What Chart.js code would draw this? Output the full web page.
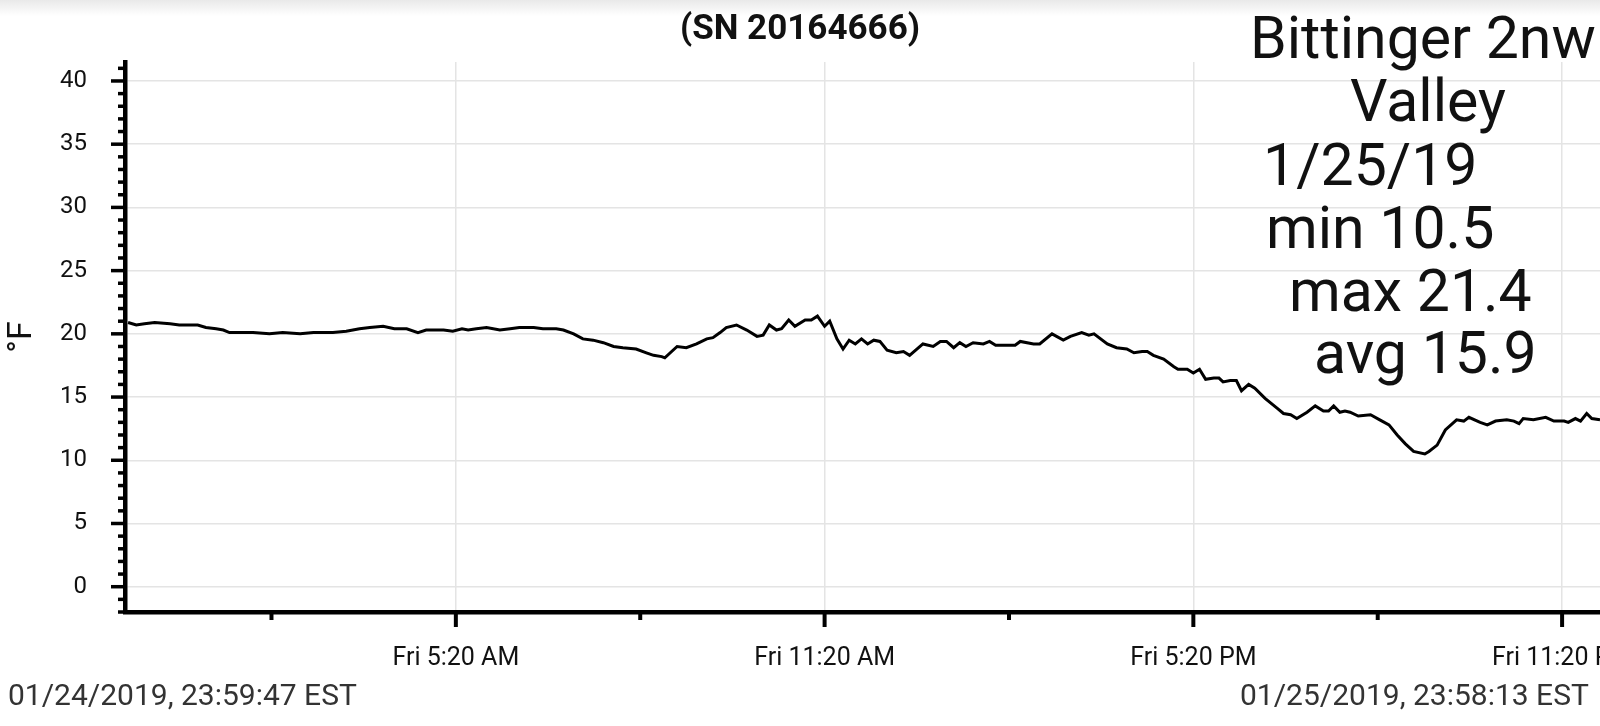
<!DOCTYPE html>
<html>
<head>
<meta charset="utf-8">
<script src="https://cdn.jsdelivr.net/npm/chart.js@4.4.1/dist/chart.umd.min.js"></script>
<style>
  html, body { margin: 0; padding: 0; background: #fff; }
  #wrap { position: relative; width: 1600px; height: 726px; overflow: hidden; font-family: Roboto, sans-serif; }
  #shade { position: absolute; left: 0; top: 0; width: 1600px; height: 16px; background: linear-gradient(#e9e9e9, #ffffff); }
  canvas { position: absolute; left: 0; top: 0; }
  .note { position: absolute; font-size: 59px; line-height: 1; color: #111; white-space: nowrap; }
  .stamp { position: absolute; top: 680px; font-size: 30px; line-height: 1; color: #333; white-space: nowrap; }
</style>
</head>
<body>
<div id="wrap">
  <div id="shade"></div>
  <canvas id="chart" width="1600" height="726"></canvas>
  <div class="note" style="left:1250px; top:8px">Bittinger 2nw</div>
  <div class="note" style="left:1350px; top:71px">Valley</div>
  <div class="note" style="left:1263px; top:135px">1/25/19</div>
  <div class="note" style="left:1266px; top:198px">min 10.5</div>
  <div class="note" style="left:1289px; top:261px">max 21.4</div>
  <div class="note" style="left:1314px; top:323px">avg 15.9</div>
  <div class="stamp" style="left:8px">01/24/2019, 23:59:47 EST</div>
  <div class="stamp" style="left:1240px">01/25/2019, 23:58:13 EST</div>
</div>
<script>
// minutes after midnight, Fri 01/25/2019
var sampleMinutes = [0,8,16,26,41,50,68,76,86,93,99,109,116,122,138,151,168,181,200,213,226,236,249,260,272,283,291,308,317,326,332,340,350,363,373,382,396,405,418,425,435,444,454,464,474,483,496,506,513,521,524,536,545,555,565,571,578,584,594,604,614,620,626,633,638,645,651,661,667,673,680,685,692,698,704,710,716,722,728,734,741,750,757,763,776,786,793,799,806,812,818,825,835,841,847,866,871,884,890,902,913,920,931,938,943,956,965,975,982,990,995,1001,1011,1021,1025,1034,1040,1046,1052,1060,1065,1069,1076,1082,1087,1094,1100,1110,1122,1128,1135,1141,1151,1159,1167,1172,1177,1183,1188,1193,1201,1213,1222,1231,1239,1247,1255,1266,1270,1278,1286,1297,1304,1309,1320,1327,1335,1346,1353,1358,1362,1372,1384,1392,1402,1406,1413,1418,1424,1429,1437];
var tempF = [20.9,20.7,20.8,20.9,20.8,20.7,20.7,20.5,20.4,20.3,20.1,20.1,20.1,20.1,20.0,20.1,20.0,20.1,20.1,20.2,20.4,20.5,20.6,20.4,20.4,20.1,20.3,20.3,20.2,20.4,20.3,20.4,20.5,20.3,20.4,20.5,20.5,20.4,20.4,20.3,20.0,19.6,19.5,19.3,19.0,18.9,18.8,18.5,18.3,18.2,18.1,19.0,18.9,19.2,19.6,19.7,20.1,20.5,20.7,20.3,19.8,19.9,20.7,20.3,20.4,21.1,20.6,21.1,21.1,21.4,20.6,21.0,19.6,18.8,19.5,19.2,19.6,19.2,19.5,19.4,18.7,18.5,18.6,18.3,19.2,19.0,19.4,19.4,18.9,19.3,19.0,19.3,19.2,19.4,19.1,19.1,19.4,19.2,19.2,20.0,19.5,19.8,20.1,19.9,20.0,19.2,18.9,18.8,18.5,18.6,18.6,18.3,18.0,17.4,17.2,17.2,16.9,17.2,16.4,16.5,16.5,16.2,16.3,16.3,15.5,16.0,15.7,14.9,14.1,13.7,13.6,13.3,13.8,14.3,13.9,13.9,14.3,13.8,13.9,13.8,13.5,13.6,13.2,12.8,12.0,11.3,10.7,10.5,10.7,11.2,12.4,13.2,13.1,13.4,13.0,12.8,13.1,13.2,13.1,12.9,13.3,13.2,13.4,13.1,13.1,13.0,13.3,13.1,13.7,13.3,13.2];

var xTickMinutes = [140, 320, 500, 680, 860, 1040, 1220, 1400];
var xTickLabels = ['', 'Fri 5:20 AM', '', 'Fri 11:20 AM', '', 'Fri 5:20 PM', '', 'Fri 11:20 PM'];
var yMin = -2, yMax = 41.5;

var points = sampleMinutes.map(function(m, i) { return { x: m, y: tempF[i] } });

function isMajorX(v) { return xTickLabels[xTickMinutes.indexOf(v)] !== '' }

var tickMarks = {
  id: 'tickMarks',
  afterDraw: function(chart) {
    var ctx = chart.ctx, xs = chart.scales.x, ys = chart.scales.y;
    ctx.save();
    ctx.strokeStyle = '#000';
    ctx.lineWidth = 3.5;
    ys.ticks.forEach(function(t) {
      var y = ys.getPixelForValue(t.value);
      var len = t.value % 5 === 0 ? 14 : 7;
      ctx.beginPath(); ctx.moveTo(ys.right - len, y); ctx.lineTo(ys.right, y); ctx.stroke();
    });
    ctx.lineWidth = 4;
    xs.ticks.forEach(function(t) {
      var x = xs.getPixelForValue(t.value);
      var len = isMajorX(t.value) ? 15 : 8;
      ctx.beginPath(); ctx.moveTo(x, xs.top); ctx.lineTo(x, xs.top + len); ctx.stroke();
    });
    ctx.restore();
  }
};

var chart = new Chart(document.getElementById('chart').getContext('2d'), {
  type: 'line',
  data: {
    datasets: [{
      label: '°F',
      data: points,
      borderColor: '#000',
      borderWidth: 3,
      pointRadius: 0,
      tension: 0,
      fill: false
    }]
  },
  options: {
    responsive: false,
    animation: false,
    layout: { padding: 0 },
    plugins: {
      legend: { display: false },
      tooltip: { enabled: false },
      title: {
        display: true,
        text: '(SN 20164666)',
        color: '#111',
        font: { family: 'Roboto', size: 35, weight: 'bold' },
        padding: { top: 9, bottom: 11 }
      }
    },
    scales: {
      x: {
        type: 'linear',
        min: -3,
        max: 1437,
        afterBuildTicks: function(scale) {
          scale.ticks = xTickMinutes.map(function(v) { return { value: v } });
        },
        afterFit: function(scale) {
          scale.height = 114;
          scale.paddingLeft = 0;
          scale.paddingRight = 0;
        },
        ticks: {
          autoSkip: false,
          maxRotation: 0,
          padding: 18,
          color: '#111',
          font: { family: 'Roboto', size: 25 },
          callback: function(v) { return xTickLabels[xTickMinutes.indexOf(v)] }
        },
        grid: {
          color: function(c) { return c.tick && isMajorX(c.tick.value) ? '#e4e4e4' : 'rgba(0,0,0,0)' },
          lineWidth: 1.5,
          tickColor: 'rgba(0,0,0,0)',
          tickLength: 14
        },
        border: { display: true, color: '#000', width: 4.5 }
      },
      y: {
        min: yMin,
        max: yMax,
        afterBuildTicks: function(scale) {
          var t = [];
          for (var v = -2; v <= 41; v++) t.push({ value: v });
          scale.ticks = t;
        },
        afterFit: function(scale) {
          scale.width = 125;
          scale.paddingTop = 0;
          scale.paddingBottom = 0;
        },
        title: {
          display: true,
          text: '°F',
          color: '#111',
          font: { family: 'Roboto', size: 34 },
          padding: { top: 2, bottom: 4 }
        },
        ticks: {
          autoSkip: false,
          padding: 24,
          color: '#111',
          font: { family: 'Roboto', size: 24 },
          callback: function(v) { return v % 5 === 0 ? String(v) : '' }
        },
        grid: {
          color: function(c) { return c.tick && c.tick.value % 5 === 0 ? '#e4e4e4' : 'rgba(0,0,0,0)' },
          lineWidth: 1.5,
          tickColor: 'rgba(0,0,0,0)',
          tickLength: 14
        },
        border: { display: true, color: '#000', width: 4.5 }
      }
    }
  },
  plugins: [tickMarks]
});
</script>
</body>
</html>
